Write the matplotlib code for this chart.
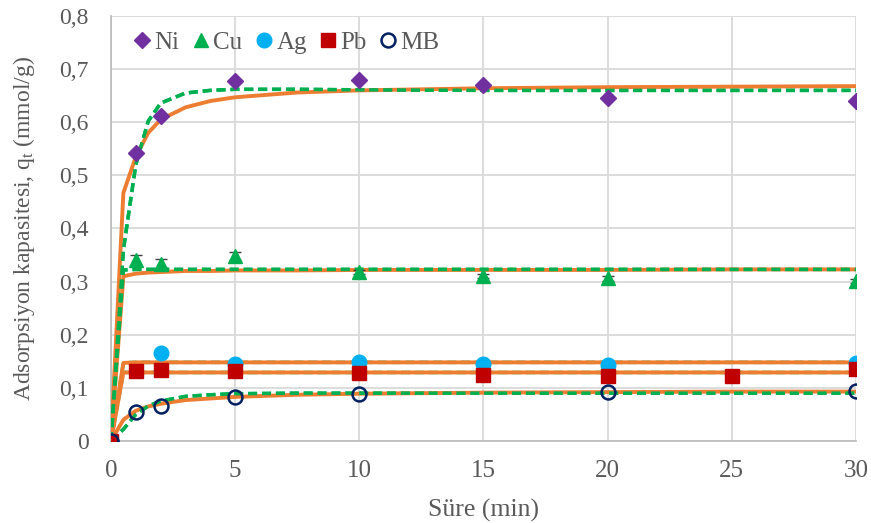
import matplotlib
matplotlib.use("Agg")
import matplotlib.pyplot as plt

plt.rcParams["font.family"] = ["Liberation Serif", "DejaVu Serif"]
plt.rcParams["mathtext.fontset"] = "custom"
plt.rcParams["mathtext.rm"] = "Liberation Serif"
plt.rcParams["mathtext.it"] = "Liberation Serif:italic"

# measured points
ni_t = [0, 1, 2, 5, 10, 15, 20, 30]
ni_q = [0, 0.543, 0.611, 0.678, 0.679, 0.671, 0.646, 0.640]

cu_t = [0, 1, 2, 5, 10, 15, 20, 30]
cu_q = [0, 0.340, 0.334, 0.348, 0.318, 0.310, 0.306, 0.301]
cu_err = [0, 0.010, 0.008, 0.008, 0.004, 0.004, 0.004, 0.004]

ag_t = [0, 2, 5, 10, 15, 20, 30]
ag_q = [0, 0.166, 0.145, 0.148, 0.145, 0.143, 0.146]

pb_t = [0, 1, 2, 5, 10, 15, 20, 25, 30]
pb_q = [0, 0.131, 0.134, 0.131, 0.128, 0.125, 0.122, 0.123, 0.135]

mb_t = [0, 1, 2, 5, 10, 20, 30]
mb_q = [0, 0.055, 0.065, 0.083, 0.089, 0.093, 0.095]

# model curves
fit_t = [0, 0.5, 1, 1.5, 2, 3, 4, 5, 7.5, 10, 15, 20, 25, 30]
ni_fit1 = [0, 0.467, 0.535, 0.580, 0.605, 0.628, 0.640, 0.647, 0.656,
           0.660, 0.664, 0.666, 0.667, 0.668]
ni_fit2 = [0, 0.360, 0.520, 0.602, 0.636, 0.655, 0.660, 0.662, 0.662,
           0.661, 0.660, 0.660, 0.660, 0.660]
cu_fit1 = [0, 0.310, 0.315, 0.317, 0.318, 0.320, 0.320, 0.321, 0.321,
           0.322, 0.322, 0.322, 0.323, 0.323]
cu_fit2 = [0, 0.322, 0.323, 0.323, 0.323, 0.323, 0.323, 0.323, 0.323,
           0.323, 0.323, 0.323, 0.323, 0.323]
ag_fit1 = [0, 0.147, 0.148, 0.148, 0.148, 0.148, 0.148, 0.148, 0.148,
           0.148, 0.148, 0.148, 0.148, 0.148]
ag_fit2 = ag_fit1
pb_fit1 = [0, 0.129, 0.129, 0.129, 0.129, 0.129, 0.129, 0.129, 0.129,
           0.129, 0.129, 0.129, 0.129, 0.129]
pb_fit2 = pb_fit1
mb_fit1 = [0, 0.040, 0.057, 0.065, 0.070, 0.077, 0.080, 0.083, 0.087,
           0.089, 0.091, 0.092, 0.093, 0.093]
mb_fit2 = [0, 0.022, 0.050, 0.066, 0.075, 0.084, 0.087, 0.089, 0.090,
           0.090, 0.090, 0.090, 0.090, 0.090]

ORANGE = "#ED7D31"
GREEN = "#00B050"
GRAY = "#595959"

fig = plt.figure(figsize=(8.71, 5.23), dpi=100)
ax = fig.add_axes([0.1274, 0.1568, 0.8554, 0.8126])

for f1, f2 in [(ni_fit1, ni_fit2), (cu_fit1, cu_fit2), (ag_fit1, ag_fit2),
               (pb_fit1, pb_fit2), (mb_fit1, mb_fit2)]:
    ax.plot(fit_t, f2, color=GREEN, lw=2.5, ls=(0, (2.6, 1.4)), zorder=2)
    ax.plot(fit_t, f1, color=ORANGE, lw=2.8, zorder=3)

# green dashed stays visible above the orange where they differ
for f2 in [ni_fit2, cu_fit2, mb_fit2]:
    ax.plot(fit_t, f2, color=GREEN, lw=2.5, ls=(0, (2.6, 1.4)), zorder=4)

h_ni, = ax.plot(ni_t, ni_q, ls="none", marker="D", ms=8.5,
                color="#7030A0", zorder=5)
h_cu = ax.errorbar(cu_t, cu_q, yerr=cu_err, ls="none", marker="^", ms=10,
                   color=GREEN, ecolor="#404040", elinewidth=1, capsize=4,
                   zorder=5)
h_ag, = ax.plot(ag_t, ag_q, ls="none", marker="o", ms=10.5,
                color="#00B0F0", zorder=5)
h_pb, = ax.plot(pb_t, pb_q, ls="none", marker="s", ms=10,
                color="#C00000", zorder=6)
h_mb, = ax.plot(mb_t, mb_q, ls="none", marker="o", ms=10, mfc="none",
                mec="#002060", mew=1.8, zorder=6)

ax.set_xlim(0, 30)
ax.set_ylim(0, 0.8)
ax.set_xticks(range(0, 31, 5))
ax.set_yticks([i / 10 for i in range(9)])
ax.set_yticklabels(["0"] + [f"0,{i}" for i in range(1, 9)])

ax.grid(True, color="#D9D9D9", lw=1.3)
ax.set_axisbelow(True)
for side in ["top", "right"]:
    ax.spines[side].set_visible(False)
for side in ["left", "bottom"]:
    ax.spines[side].set_color("#BFBFBF")
    ax.spines[side].set_linewidth(1.3)

ax.tick_params(length=0, colors=GRAY)
ax.tick_params(axis="x", labelsize=18, pad=14)
ax.tick_params(axis="y", labelsize=17, pad=16)

ax.set_xlabel("Süre (min)", fontsize=18.5, color=GRAY, labelpad=12)
ax.set_ylabel(r"Adsorpsiyon kapasitesi, q$_\mathregular{t}$ (mmol/g)",
              fontsize=17, color=GRAY, labelpad=16)

ax.legend([h_ni, h_cu[0], h_ag, h_pb, h_mb],
          ["Ni", "Cu", "Ag", "Pb", "MB"],
          loc="upper left", ncol=5, frameon=False, fontsize=18,
          handlelength=0.7, handletextpad=0.15, columnspacing=0.5,
          borderaxespad=0.2, bbox_to_anchor=(0.01, 1.0),
          labelcolor=GRAY)

fig.savefig("out.png", dpi=100)
